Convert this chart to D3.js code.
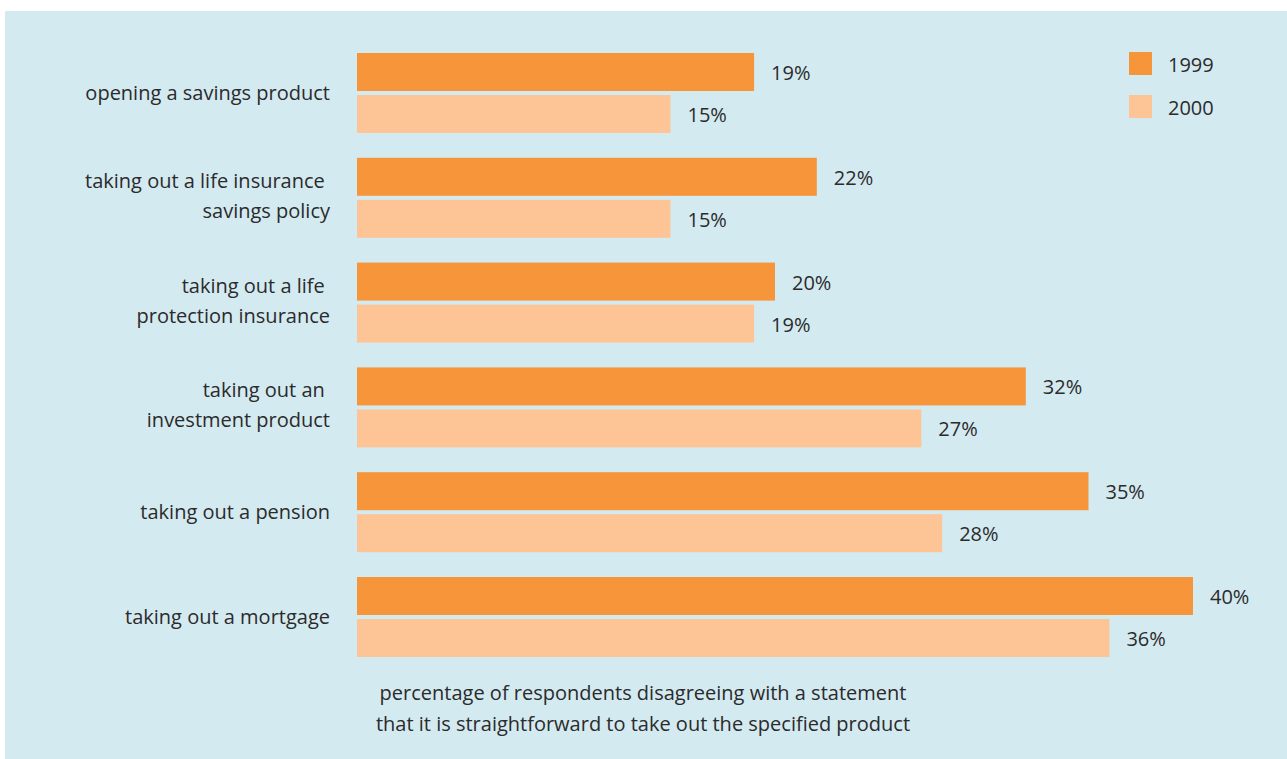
<!DOCTYPE html>
<html>
<head>
<meta charset="utf-8">
<script src="https://cdn.jsdelivr.net/npm/d3@7"></script>
<style>
  html, body { margin: 0; padding: 0; background: #ffffff; }
  svg text { font-family: "Open Sans", "Noto Sans", sans-serif; fill: #2b2b2b; white-space: pre; }
</style>
</head>
<body>
<svg id="chart" width="1287" height="759"></svg>
<script>
// Survey categories (each entry is the list of lines in the label)
const categories = [
  ["opening a savings product"],
  ["taking out a life insurance ", "savings policy"],
  ["taking out a life ", "protection insurance"],
  ["taking out an ", "investment product"],
  ["taking out a pension"],
  ["taking out a mortgage"]
];
const seriesNames = ["1999", "2000"];
const values1999 = [19, 22, 20, 32, 35, 40];
const values2000 = [15, 15, 19, 27, 28, 36];
const footnoteLines = [
  "percentage of respondents disagreeing with a statement",
  "that it is straightforward to take out the specified product"
];

const colors = ["#f6953a", "#fdc595"];
const fontSize = 20;
const svg = d3.select("#chart");

// panel background
svg.append("rect")
  .attr("x", 5).attr("y", 11)
  .attr("width", 1282).attr("height", 748)
  .attr("fill", "#d4eaf1");

const x = d3.scaleLinear().domain([0, 40]).range([357, 1193]);
const y = d3.scaleBand()
  .domain(d3.range(categories.length))
  .range([53, 657])
  .paddingInner(24.8 / 104.8).paddingOuter(0);
const inner = d3.scaleBand().domain([0, 1]).range([0, y.bandwidth()]).paddingInner(4 / 42);

const series = [values1999, values2000];
const groups = svg.selectAll("g.cat")
  .data(categories.map((c, i) => ({ lines: c, i })))
  .join("g").attr("class", "cat")
  .attr("transform", d => `translate(0,${y(d.i)})`);

groups.each(function(d) {
  const g = d3.select(this);
  series.forEach((vals, s) => {
    g.append("rect")
      .attr("x", x(0))
      .attr("y", inner(s))
      .attr("width", x(vals[d.i]) - x(0))
      .attr("height", inner.bandwidth())
      .attr("fill", colors[s]);
    g.append("text")
      .attr("x", x(vals[d.i]) + 17)
      .attr("y", inner(s) + inner.bandwidth() / 2 + 1)
      .attr("dy", "0.35em")
      .attr("font-size", fontSize)
      .text(vals[d.i] + "%");
  });
  // category label, right aligned against the bars
  const n = d.lines.length;
  const mid = y.bandwidth() / 2 - (n > 1 ? 2 : 0);
  d.lines.forEach((line, k) => {
    g.append("text")
      .attr("x", 330)
      .attr("y", mid + (k - (n - 1) / 2) * 30)
      .attr("dy", "0.35em")
      .attr("text-anchor", "end")
      .attr("font-size", fontSize)
      .text(line);
  });
});

// legend
const legend = svg.append("g").attr("transform", "translate(1129,52)");
seriesNames.forEach((name, s) => {
  legend.append("rect")
    .attr("x", 0).attr("y", s * 43)
    .attr("width", 23).attr("height", 23)
    .attr("fill", colors[s]);
  legend.append("text")
    .attr("x", 39).attr("y", s * 43 + 12.5)
    .attr("dy", "0.35em")
    .attr("font-size", fontSize)
    .text(name);
});

// footnote
svg.append("g").selectAll("text")
  .data(footnoteLines)
  .join("text")
  .attr("x", 643)
  .attr("y", (d, i) => 693 + i * 31)
  .attr("dy", "0.35em")
  .attr("text-anchor", "middle")
  .attr("font-size", fontSize)
  .text(d => d);
</script>
</body>
</html>
